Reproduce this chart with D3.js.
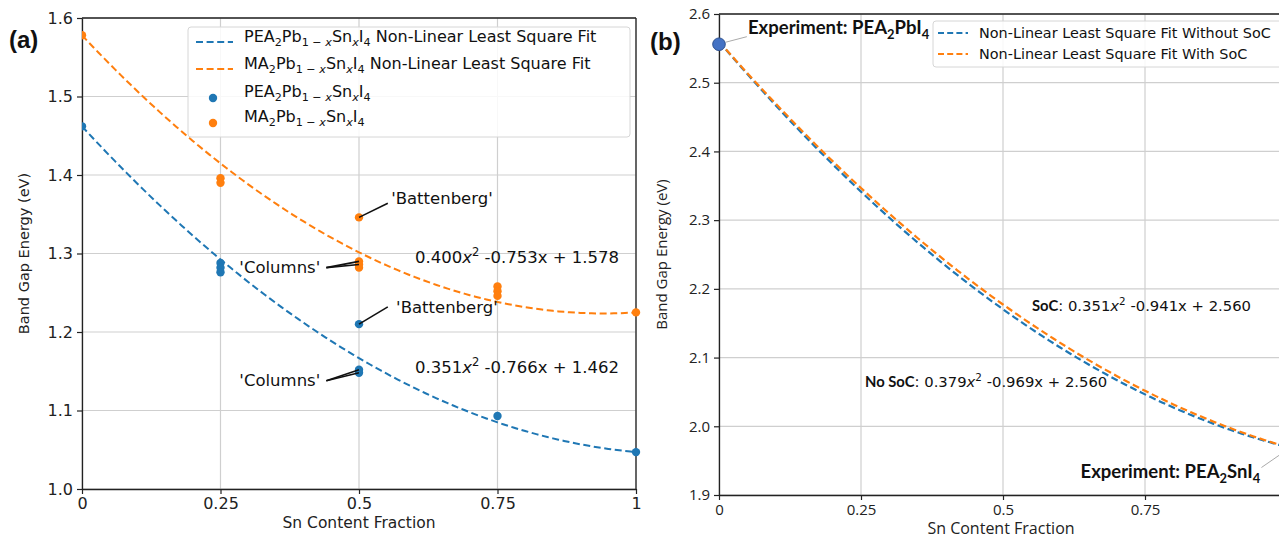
<!DOCTYPE html>
<html>
<head>
<meta charset="utf-8">
<script src="https://cdn.jsdelivr.net/npm/d3@7"></script>
<style>
  body { margin: 0; background: #fff; }
  text { white-space: pre; }
</style>
</head>
<body>
<svg id="fig" width="1279" height="540"></svg>
<script>
// ---- data ----
const snTicks = [0, 0.25, 0.5, 0.75, 1];
const snTickLabels = ["0", "0.25", "0.5", "0.75", "1"];

const gapTicksA = [1.0, 1.1, 1.2, 1.3, 1.4, 1.5, 1.6];
const gapTickLabelsA = ["1.0", "1.1", "1.2", "1.3", "1.4", "1.5", "1.6"];
const gapTicksB = [1.9, 2.0, 2.1, 2.2, 2.3, 2.4, 2.5, 2.6];
const gapTickLabelsB = ["1.9", "2.0", "2.1", "2.2", "2.3", "2.4", "2.5", "2.6"];

// PEA2Pb(1-x)Sn(x)I4 computed band gaps
const peaX   = [0, 0.25, 0.25, 0.25, 0.5, 0.5, 0.5, 0.75, 1];
const peaGap = [1.462, 1.288, 1.282, 1.276, 1.210, 1.152, 1.148, 1.093, 1.047];
// MA2Pb(1-x)Sn(x)I4 computed band gaps
const maX   = [0, 0.25, 0.25, 0.5, 0.5, 0.5, 0.5, 0.75, 0.75, 0.75, 1];
const maGap = [1.578, 1.396, 1.390, 1.346, 1.290, 1.286, 1.282, 1.258, 1.252, 1.246, 1.225];

// quadratic fit coefficients [a, b, c] for a x^2 + b x + c
const peaFit   = [0.351, -0.766, 1.462];
const maFit    = [0.400, -0.753, 1.578];
const noSocFit = [0.379, -0.969, 2.560];
const socFit   = [0.351, -0.941, 2.560];

// experimental end members (PEA2PbI4, PEA2SnI4)
const experimentX   = [0, 1];
const experimentGap = [2.556, 1.970];

// ---- helpers ----
const BLUE = "#1f77b4", ORANGE = "#ff7f0e";
const FIG_W = 1279;
const fitGrid = d3.range(0, 101).map(i => i / 100);
const quad = (c, x) => c[0] * x * x + c[1] * x + c[2];

const svg = d3.select("#fig");

// rich text: parts are strings or [string, flags, family] with s=sub, p=sup, i=italic, b=bold
function rich(sel, parts, fs) {
  let shift = 0;
  parts.forEach(p => {
    const isArr = Array.isArray(p);
    const str = isArr ? p[0] : p;
    const flags = isArr ? (p[1] || "") : "";
    const fam = isArr ? p[2] : null;
    const sub = flags.includes("s"), sup = flags.includes("p");
    const target = sub ? fs * 0.26 : sup ? -fs * 0.42 : 0;
    const ts = sel.append("tspan").text(str).attr("dy", target - shift);
    shift = target;
    if (sub || sup) ts.attr("font-size", fs * 0.7);
    if (flags.includes("i")) ts.attr("font-style", "italic");
    if (flags.includes("b")) ts.attr("font-weight", "bold");
    if (fam) ts.attr("font-family", fam);
  });
  return sel;
}

function panel(opt) {
  const g = svg.append("g");
  const x = d3.scaleLinear().domain([0, 1]).range([opt.x0, opt.x1]);
  const y = d3.scaleLinear().domain(opt.yDomain).range([opt.y1, opt.y0]);
  const clipId = "clip" + opt.id;
  svg.append("clipPath").attr("id", clipId).append("rect")
    .attr("x", opt.x0).attr("y", opt.y0 - 8)
    .attr("width", opt.x1 - opt.x0 + 8).attr("height", opt.y1 - opt.y0 + 8);

  // only ticks that fall inside the figure
  const xTicks = snTicks.filter(d => x(d) < FIG_W - 4);

  // grid
  g.append("g").selectAll("line").data(xTicks).join("line")
    .attr("x1", d => x(d)).attr("x2", d => x(d))
    .attr("y1", opt.y0).attr("y2", opt.y1)
    .attr("stroke", "#cfcfcf").attr("stroke-width", 1.2);
  g.append("g").selectAll("line").data(opt.yTicks).join("line")
    .attr("x1", opt.x0).attr("x2", opt.x1)
    .attr("y1", d => y(d)).attr("y2", d => y(d))
    .attr("stroke", "#cfcfcf").attr("stroke-width", 1.2);

  // axes
  const xAxis = d3.axisBottom(x).tickValues(xTicks)
    .tickFormat(d => snTickLabels[snTicks.indexOf(d)]).tickSize(5).tickSizeOuter(0).tickPadding(4);
  const yAxis = d3.axisLeft(y).tickValues(opt.yTicks)
    .tickFormat((d, i) => opt.yTickLabels[i]).tickSize(5).tickSizeOuter(0).tickPadding(4);
  const gx = g.append("g").attr("transform", `translate(0,${opt.y1})`).call(xAxis);
  const gy = g.append("g").attr("transform", `translate(${opt.x0},0)`).call(yAxis);
  [gx, gy].forEach(a => {
    a.select(".domain").attr("stroke", "#222").attr("stroke-width", 1.3);
    a.selectAll(".tick line").attr("stroke", "#222").attr("stroke-width", 1.2);
    a.selectAll(".tick text").attr("fill", "#222")
      .attr("font-family", opt.tickFont).attr("font-size", opt.tickSize);
  });
  // top and right frame
  g.append("line").attr("x1", opt.x0).attr("x2", opt.x1).attr("y1", opt.y0).attr("y2", opt.y0)
    .attr("stroke", "#222").attr("stroke-width", 1.3);
  g.append("line").attr("x1", opt.x1).attr("x2", opt.x1).attr("y1", opt.y0).attr("y2", opt.y1)
    .attr("stroke", "#222").attr("stroke-width", 1.3);

  // axis titles
  g.append("text").text("Sn Content Fraction")
    .attr("x", opt.xLabelX).attr("y", opt.xLabelY)
    .attr("text-anchor", "middle").attr("font-family", opt.tickFont)
    .attr("font-size", opt.labelSize).attr("fill", "#222");
  g.append("text").text("Band Gap Energy (eV)")
    .attr("transform", `translate(${opt.yLabelX},${(opt.y0 + opt.y1) / 2}) rotate(-90)`)
    .attr("text-anchor", "middle").attr("font-family", opt.tickFont)
    .attr("font-size", opt.labelSize - 1).attr("fill", "#222");

  return { g, x, y, clip: `url(#${clipId})` };
}

const line = (x, y, c) => d3.line().x(d => x(d)).y(d => y(quad(c, d)));

// ================= panel (a) =================
const A = panel({
  id: "a", x0: 82, x1: 636, y0: 18, y1: 489,
  yDomain: [1.0, 1.6], yTicks: gapTicksA, yTickLabels: gapTickLabelsA,
  tickFont: "DejaVu Sans", tickSize: 16, labelSize: 15.5,
  xLabelX: 359, xLabelY: 528, yLabelX: 29
});
{
  const { g, x, y, clip } = A;
  const curves = g.append("g").attr("clip-path", clip);
  curves.append("path").datum(fitGrid).attr("d", line(x, y, peaFit))
    .attr("fill", "none").attr("stroke", BLUE).attr("stroke-width", 2).attr("stroke-dasharray", "7,3.6");
  curves.append("path").datum(fitGrid).attr("d", line(x, y, maFit))
    .attr("fill", "none").attr("stroke", ORANGE).attr("stroke-width", 2).attr("stroke-dasharray", "7,3.6");

  const pts = g.append("g").attr("clip-path", clip);
  pts.selectAll("circle.pea").data(peaX).join("circle").attr("class", "pea")
    .attr("cx", d => x(d)).attr("cy", (d, i) => y(peaGap[i])).attr("r", 4.2).attr("fill", BLUE);
  pts.selectAll("circle.ma").data(maX).join("circle").attr("class", "ma")
    .attr("cx", d => x(d)).attr("cy", (d, i) => y(maGap[i])).attr("r", 4.2).attr("fill", ORANGE);

  // structure annotations
  const ann = g.append("g").attr("font-family", "DejaVu Sans").attr("font-size", 16.5).attr("fill", "#111");
  const leader = (x1, y1, x2, y2) => ann.append("line")
    .attr("x1", x(x1)).attr("y1", y(y1)).attr("x2", x(x2)).attr("y2", y(y2))
    .attr("stroke", "#111").attr("stroke-width", 1.6);
  ann.append("text").text("'Battenberg'").attr("x", x(0.558)).attr("y", y(1.371)).attr("dy", "0.35em");
  leader(0.552, 1.364, 0.5, 1.346);
  ann.append("text").text("'Columns'").attr("x", x(0.43)).attr("y", y(1.283)).attr("dy", "0.35em").attr("text-anchor", "end");
  leader(0.441, 1.282, 0.5, 1.290);
  leader(0.441, 1.282, 0.5, 1.286);
  ann.append("text").text("'Battenberg'").attr("x", x(0.567)).attr("y", y(1.231)).attr("dy", "0.35em");
  leader(0.552, 1.232, 0.5, 1.210);
  ann.append("text").text("'Columns'").attr("x", x(0.43)).attr("y", y(1.138)).attr("dy", "0.35em").attr("text-anchor", "end");
  leader(0.441, 1.138, 0.5, 1.152);
  leader(0.441, 1.138, 0.5, 1.148);

  // fit equations
  rich(ann.append("text").attr("x", x(0.601)).attr("y", y(1.288)).attr("dy", "0.35em"),
    ["0.400", ["x", "i"], ["2", "p"], " -0.753x + 1.578"], 16.5);
  rich(ann.append("text").attr("x", x(0.601)).attr("y", y(1.148)).attr("dy", "0.35em"),
    ["0.351", ["x", "i"], ["2", "p"], " -0.766x + 1.462"], 16.5);

  // legend
  const lg = g.append("g");
  lg.append("rect").attr("x", 188).attr("y", 27).attr("width", 442).attr("height", 110)
    .attr("rx", 3).attr("fill", "#fff").attr("fill-opacity", 0.85)
    .attr("stroke", "#d6d6d6").attr("stroke-width", 1);
  const formula = pre => [pre, ["2", "s"], "Pb", ["1 − ", "s"], ["x", "si"], "Sn", ["x", "si"], "I", ["4", "s"]];
  const rows = [
    { kind: "line", color: BLUE, parts: formula("PEA").concat([" Non-Linear Least Square Fit"]) },
    { kind: "line", color: ORANGE, parts: formula("MA").concat([" Non-Linear Least Square Fit"]) },
    { kind: "dot", color: BLUE, parts: formula("PEA") },
    { kind: "dot", color: ORANGE, parts: formula("MA") }
  ];
  const rowY = [42, 69, 97, 122];
  rows.forEach((r, i) => {
    if (r.kind === "line") {
      lg.append("line").attr("x1", 196).attr("x2", 233).attr("y1", rowY[i]).attr("y2", rowY[i])
        .attr("stroke", r.color).attr("stroke-width", 2).attr("stroke-dasharray", "7,3.6");
    } else {
      lg.append("circle").attr("cx", 213).attr("cy", rowY[i] + 1).attr("r", 4.2).attr("fill", r.color);
    }
    rich(lg.append("text").attr("x", 244).attr("y", rowY[i]).attr("dy", "0.33em")
      .attr("font-family", "DejaVu Sans").attr("font-size", 16).attr("fill", "#111"), r.parts, 16);
  });

  svg.append("text").text("(a)").attr("x", 9).attr("y", 48)
    .attr("font-family", "Liberation Sans").attr("font-weight", "bold").attr("font-size", 24).attr("fill", "#111");
}

// ================= panel (b) =================
const B = panel({
  id: "b", x0: 719, x1: 1287, y0: 14, y1: 495,
  yDomain: [1.9, 2.6], yTicks: gapTicksB, yTickLabels: gapTickLabelsB,
  tickFont: "Open Sans", tickSize: 15, labelSize: 16,
  xLabelX: 1001, xLabelY: 534, yLabelX: 667
});
{
  const { g, x, y, clip } = B;
  const curves = g.append("g").attr("clip-path", clip);
  curves.append("path").datum(fitGrid).attr("d", line(x, y, noSocFit))
    .attr("fill", "none").attr("stroke", BLUE).attr("stroke-width", 2.2).attr("stroke-dasharray", "7,3.6");
  curves.append("path").datum(fitGrid).attr("d", line(x, y, socFit))
    .attr("fill", "none").attr("stroke", ORANGE).attr("stroke-width", 2.2).attr("stroke-dasharray", "7,3.6");

  // experimental points with callouts
  const ex = g.append("g");
  ex.append("line").attr("x1", x(0.012)).attr("y1", y(2.559)).attr("x2", x(0.049)).attr("y2", y(2.567))
    .attr("stroke", "#aaa").attr("stroke-width", 1);
  ex.append("line").attr("x1", x(0.955)).attr("y1", y(1.940)).attr("x2", x(0.99)).attr("y2", y(1.960))
    .attr("stroke", "#aaa").attr("stroke-width", 1);
  ex.selectAll("circle").data(experimentX).join("circle")
    .attr("cx", d => x(d)).attr("cy", (d, i) => y(experimentGap[i])).attr("r", 6.3)
    .attr("fill", "#4472c4").attr("stroke", "#2f528f").attr("stroke-width", 1);

  const bold = "Lato";
  rich(ex.append("text").attr("x", x(0.051)).attr("y", y(2.571)).attr("dy", "0.35em")
    .attr("font-family", bold).attr("font-weight", "bold").attr("font-size", 18.5).attr("fill", "#111"),
    ["Experiment: PEA", ["2", "s"], "PbI", ["4", "s"]], 18.5);
  rich(ex.append("text").attr("x", x(0.953)).attr("y", y(1.925)).attr("dy", "0.35em").attr("text-anchor", "end")
    .attr("font-family", bold).attr("font-weight", "bold").attr("font-size", 18.5).attr("fill", "#111"),
    ["Experiment: PEA", ["2", "s"], "SnI", ["4", "s"]], 18.5);

  // fit equations
  const eq = g.append("g").attr("font-family", "DejaVu Sans").attr("font-size", 14.8).attr("fill", "#111");
  rich(eq.append("text").attr("x", x(0.551)).attr("y", y(2.168)).attr("dy", "0.35em"),
    [["SoC", "b", bold], ": 0.351", ["x", "i"], ["2", "p"], " -0.941x + 2.560"], 14.8);
  rich(eq.append("text").attr("x", x(0.257)).attr("y", y(2.057)).attr("dy", "0.35em"),
    [["No SoC", "b", bold], ": 0.379", ["x", "i"], ["2", "p"], " -0.969x + 2.560"], 14.8);

  // legend
  const lg = g.append("g");
  lg.append("rect").attr("x", 933).attr("y", 21).attr("width", 360).attr("height", 46)
    .attr("rx", 3).attr("fill", "#fff").attr("fill-opacity", 0.85)
    .attr("stroke", "#d6d6d6").attr("stroke-width", 1);
  [[BLUE, "Non-Linear Least Square Fit Without SoC", 33], [ORANGE, "Non-Linear Least Square Fit With SoC", 54]]
    .forEach(([c, t, yy]) => {
      lg.append("line").attr("x1", 938).attr("x2", 968).attr("y1", yy).attr("y2", yy)
        .attr("stroke", c).attr("stroke-width", 2).attr("stroke-dasharray", "6,3.2");
      lg.append("text").text(t).attr("x", 979).attr("y", yy).attr("dy", "0.35em")
        .attr("font-family", "DejaVu Sans").attr("font-size", 14.4).attr("fill", "#111");
    });

  svg.append("text").text("(b)").attr("x", 650).attr("y", 50)
    .attr("font-family", "Liberation Sans").attr("font-weight", "bold").attr("font-size", 24).attr("fill", "#111");
}
</script>
</body>
</html>
